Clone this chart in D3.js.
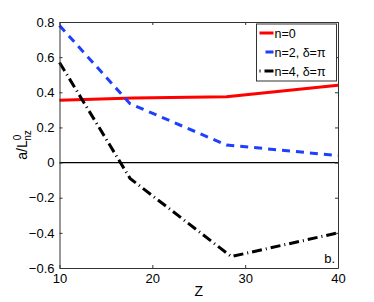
<!DOCTYPE html>
<html>
<head>
<meta charset="utf-8">
<script src="https://cdn.jsdelivr.net/npm/d3@7"></script>
<style>
  body { margin: 0; background: #fff; }
  text { font-family: "Liberation Sans", Arial, sans-serif; }
</style>
</head>
<body>
<div class="root"></div>
<script>
var width = 374,
    height = 302,
    margin = {left: 59.5, right: 36, top: 22, bottom: 34};

// data
var zN0 = [10, 18, 28, 40],
    aN0 = [0.355, 0.368, 0.375, 0.44];
var zN2 = [10, 17.6, 28, 40],
    aN2 = [0.78, 0.335, 0.1, 0.04];
var zN4 = [10, 17.6, 28.5, 40],
    aN4 = [0.57, -0.09, -0.535, -0.40];

var xTicks = [10, 20, 30, 40],
    yTicks = [-0.6, -0.4, -0.2, 0, 0.2, 0.4, 0.6, 0.8];
var legendLabels = ["n=0", "n=2, δ=π", "n=4, δ=π"];

var series = [
  {z: zN0, a: aN0, color: "#ff0000", dash: null},
  {z: zN2, a: aN2, color: "#1f3fff", dash: "8,6"},
  {z: zN4, a: aN4, color: "#000000", dash: "10,4,1,4"}
];

var svg = d3.select(".root")
  .append("svg")
  .attr("width", width)
  .attr("height", height);

var x = d3.scaleLinear().domain([10, 40]).range([margin.left, width - margin.right]);
var y = d3.scaleLinear().domain([-0.6, 0.8]).range([height - margin.bottom, margin.top]);

var fmt = function(d) { return d === 0 ? "0" : d3.format(".1f")(d).replace("-", "\u2212"); };

var axisColor = "#333";

// zero line
svg.append("line")
  .attr("x1", x(10)).attr("x2", x(40))
  .attr("y1", y(0)).attr("y2", y(0))
  .attr("stroke", "#000").attr("stroke-width", 1.2);

// lines
var line = d3.line().x(d => x(d[0])).y(d => y(d[1]));
series.forEach(s => {
  svg.append("path")
    .datum(d3.zip(s.z, s.a))
    .attr("d", line)
    .attr("fill", "none")
    .attr("stroke", s.color)
    .attr("stroke-width", 3)
    .attr("stroke-dasharray", s.dash);
});

// axes (inward ticks on all sides, matlab style)
var gx = svg.append("g")
  .attr("transform", "translate(0," + y(-0.6) + ")")
  .call(d3.axisBottom(x).tickValues(xTicks).tickSizeInner(-3).tickSizeOuter(0).tickPadding(6));
var gx2 = svg.append("g")
  .attr("transform", "translate(0," + y(0.8) + ")")
  .call(d3.axisTop(x).tickValues(xTicks).tickSizeInner(-3).tickSizeOuter(0).tickFormat(""));
var gy = svg.append("g")
  .attr("transform", "translate(" + x(10) + ",0)")
  .call(d3.axisLeft(y).tickValues(yTicks).tickFormat(fmt).tickSizeInner(-3).tickSizeOuter(0).tickPadding(5));
var gy2 = svg.append("g")
  .attr("transform", "translate(" + x(40) + ",0)")
  .call(d3.axisRight(y).tickValues(yTicks).tickSizeInner(-3).tickSizeOuter(0).tickFormat(""));

[gx, gx2, gy, gy2].forEach(g => {
  g.select(".domain").attr("stroke", axisColor);
  g.selectAll(".tick line").attr("stroke", axisColor);
  g.selectAll("text").attr("fill", "#000").style("font-size", "13px")
    .style("font-family", "Liberation Sans, Arial, sans-serif");
});

// axis labels
svg.append("text")
  .attr("x", x(25)).attr("y", 296)
  .attr("text-anchor", "middle")
  .style("font-size", "14px")
  .text("Z");

var yl = svg.append("text")
  .attr("transform", "translate(27," + y(0.1) + ") rotate(-90)")
  .attr("text-anchor", "middle")
  .style("font-size", "14px");
yl.append("tspan").text("a/L");
yl.append("tspan").attr("dy", -6).style("font-size", "10px").text("0");
yl.append("tspan").attr("dx", -6).attr("dy", 10).style("font-size", "10px").text("nz");

svg.append("text")
  .attr("x", x(40) - 3).attr("y", y(-0.6) - 5)
  .attr("text-anchor", "end")
  .style("font-size", "13px")
  .text("b.");

// legend
var lg = svg.append("g").attr("transform", "translate(256.5,24)");
lg.append("rect")
  .attr("width", 80).attr("height", 57)
  .attr("fill", "#fff").attr("stroke", axisColor);
legendLabels.forEach((t, i) => {
  var yy = 9 + i * 19;
  lg.append("line")
    .attr("x1", 3).attr("x2", 17)
    .attr("y1", yy).attr("y2", yy)
    .attr("stroke", series[i].color)
    .attr("stroke-width", 3)
    .attr("stroke-dasharray", i === 1 ? "0,6,8,0" : (i === 2 ? "1,4,10,0" : null));
  lg.append("text")
    .attr("x", 18).attr("y", yy + 4.5)
    .style("font-size", "12.5px")
    .text(t);
});
</script>
</body>
</html>
